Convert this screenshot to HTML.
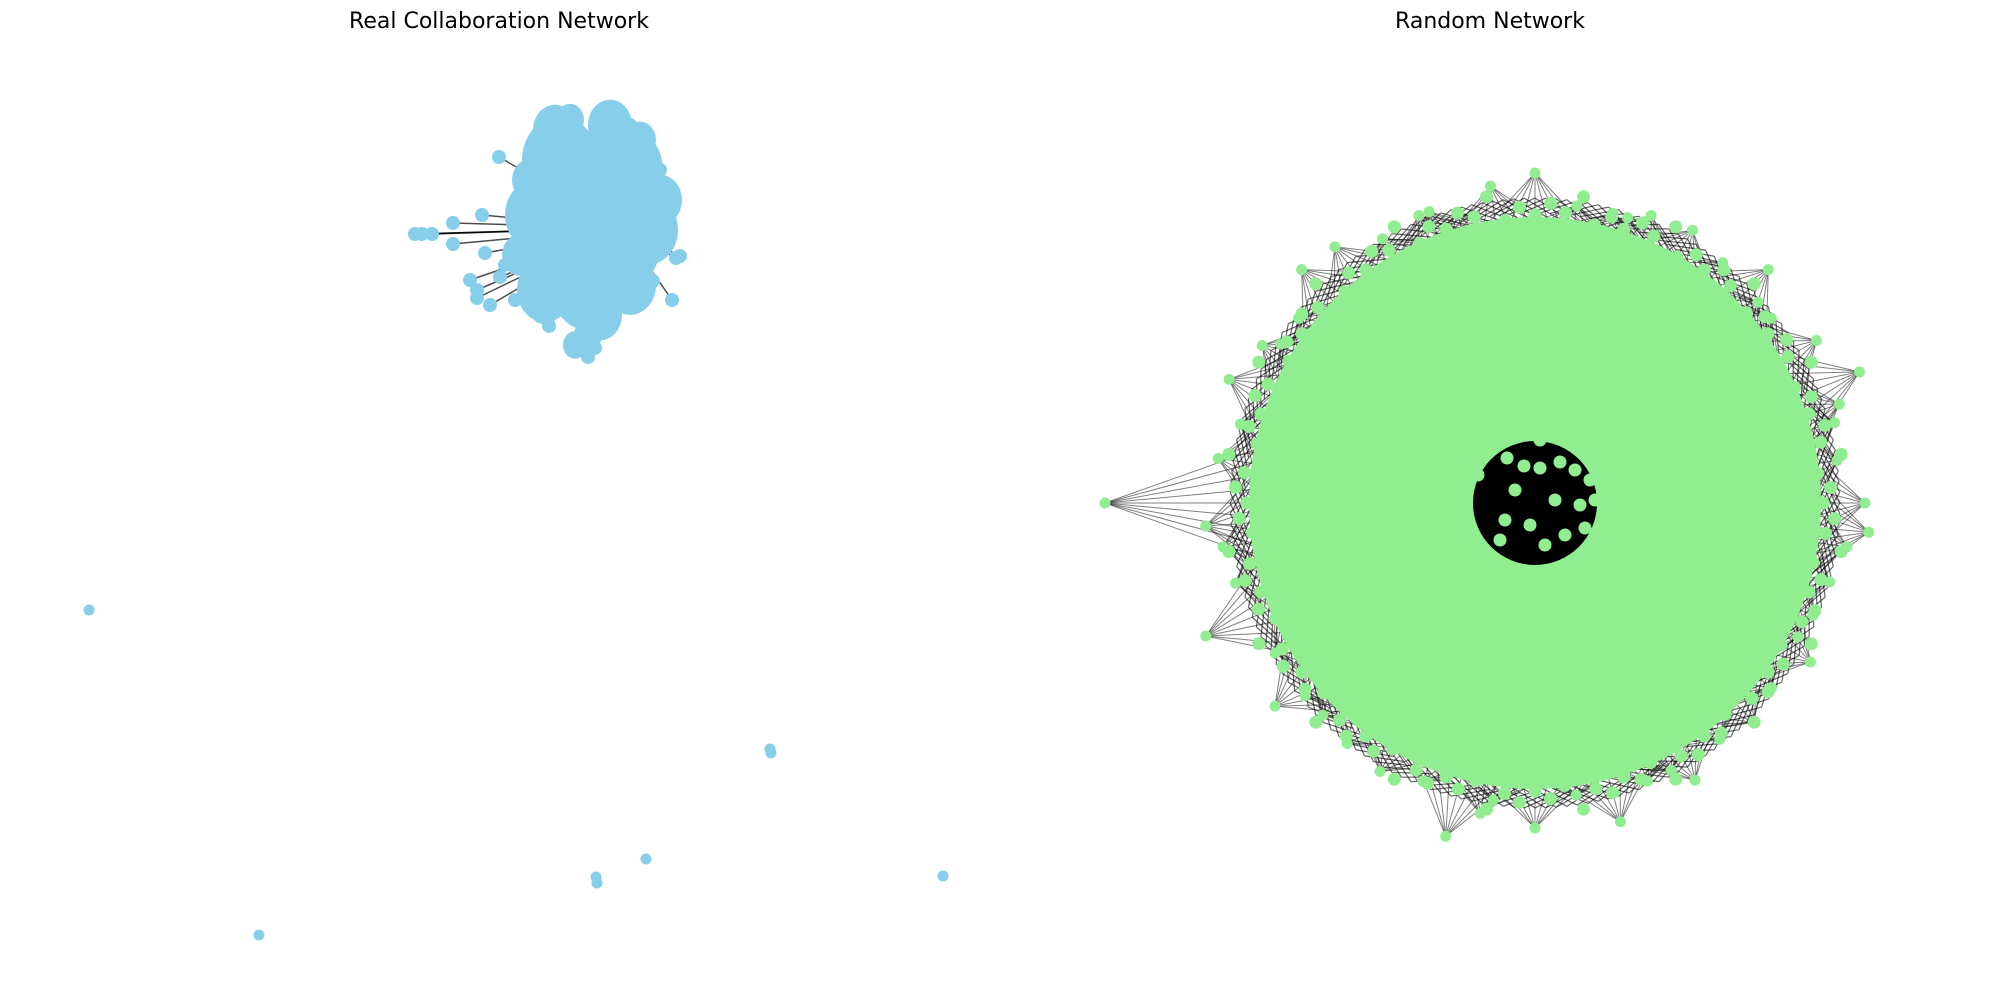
<!DOCTYPE html>
<html><head><meta charset="utf-8">
<style>
html,body{margin:0;padding:0;background:#fff;}
svg{display:block;}
text{font-family:"DejaVu Sans","Liberation Sans",sans-serif;font-size:22px;fill:#000;}
</style></head>
<body>
<svg id="fig" width="1990" height="989" viewBox="0 0 1990 989" xmlns="http://www.w3.org/2000/svg">
<rect width="1990" height="989" fill="#fff"/>
<text x="499" y="28" text-anchor="middle">Real Collaboration Network</text>
<text x="1490" y="28" text-anchor="middle">Random Network</text>
<g id="left"></g>
<g id="right"></g>
</svg>
<script>
// Real network: node positions
const realCoreX = [592, 560, 625, 535, 648, 590, 555, 610, 545, 630, 588, 600, 520, 660, 570, 640, 530, 575];
const realCoreY = [228, 160, 170, 215, 230, 285, 130, 125, 290, 285, 335, 315, 255, 200, 120, 140, 180, 345];
const realCoreR = [72, 38, 38, 30, 30, 40, 22, 22, 28, 26, 14, 22, 18, 22, 14, 16, 18, 12];
const realOuterX = [415, 422, 432, 453, 453, 482, 485, 499, 477, 477, 500, 540, 549, 646, 668, 676, 680, 653, 595, 588, 545, 538, 612, 630, 505, 515, 470, 490, 660, 672];
const realOuterY = [234, 234, 234, 223, 244, 215, 253, 157, 290, 298, 277, 316, 326, 147, 236, 258, 256, 281, 348, 357, 318, 134, 123, 125, 265, 300, 280, 305, 170, 300];
const realIsoX = [89, 259, 596, 597, 646, 770, 771, 943];
const realIsoY = [610, 935, 877, 883, 859, 749, 753, 876];

// Random network: outer node angles (deg, 0=east, clockwise) and radii
const randAngle = [0,8,15,22,30,38,45,52,60,68,75,82,90,98,105,112,120,128,135,142,150,158,165,172,180,188,195,202,210,218,225,232,240,248,255,262,270,278,285,292,300,308,315,322,330,338,345,352,5,27,63,100,140,176,212,250,288,318,342];
const randRadius = [330,315,305,300,318,300,310,300,320,300,330,295,325,300,345,300,310,305,300,330,300,355,310,315,430,320,305,330,315,300,330,325,305,310,300,320,330,300,300,310,315,305,330,300,325,350,310,305,335,295,300,315,300,330,300,310,300,300,320];
const randCX = 1535, randCY = 503;

const NS = "http://www.w3.org/2000/svg";
function mk(tag, attrs, parent){
  const e = document.createElementNS(NS, tag);
  for (const k in attrs) e.setAttribute(k, attrs[k]);
  parent.appendChild(e); return e;
}
const L = document.getElementById('left');
const R = document.getElementById('right');

for (let i = 0; i < realOuterX.length; i++) {
  const ln = mk('line', {x1: realOuterX[i], y1: realOuterY[i], x2: (realOuterX[i]+592)/2+15, y2: (realOuterY[i]+228)/2, stroke:'#000', 'stroke-width':1.5, 'stroke-opacity':0.7}, L);
  
  
}
for (let i = 0; i < realCoreX.length; i++) {
  const c = mk('ellipse', {cx: realCoreX[i], cy: realCoreY[i], rx: realCoreR[i], ry: realCoreR[i]*1.15, fill:'#87CEEB'}, L);
  
  
}
for (let i = 0; i < realOuterX.length; i++) {
  const c = mk('circle', {cx: realOuterX[i], cy: realOuterY[i], r: 7, fill:'#87CEEB'}, L);
  
  
}
for (let i = 0; i < realIsoX.length; i++) {
  const c = mk('circle', {cx: realIsoX[i], cy: realIsoY[i], r: 5.5, fill:'#87CEEB'}, L);
  
  
}

function pol(a, r){ const t = a*Math.PI/180; return [randCX + r*Math.cos(t), randCY + r*Math.sin(t)]; }
for (let i = 0; i < randAngle.length; i++) {
  const p = pol(randAngle[i], randRadius[i]);
  for (let k = -4; k <= 4; k++) {
    const q = pol(randAngle[i] + k*3, 275);
    const ln = mk('line', {x1:p[0], y1:p[1], x2:q[0], y2:q[1], stroke:'#000', 'stroke-width':1, 'stroke-opacity':0.5}, R);
    
    
  }
}
for (let a = 0; a < 360; a += 2) {
  const p = pol(a, 305), q = pol(a + 9, 280), s = pol(a - 7, 290);
  const ln = mk('path', {d:`M${p[0]},${p[1]}L${q[0]},${q[1]}M${p[0]},${p[1]}L${s[0]},${s[1]}`, stroke:'#000', 'stroke-width':1.2, 'stroke-opacity':0.6, fill:'none'}, R);
  
  
}
const disk = mk('circle', {cx: randCX, cy: randCY, r: 286, fill:'#90EE90'}, R);


const hole = mk('ellipse', {cx: randCX, cy: randCY, rx: 62, ry: 62, fill:'#000'}, R);


const holeNodesX = [1507,1524,1540,1560,1575,1590,1515,1555,1580,1505,1530,1565,1585,1545,1500,1595,1478,1592,1485,1540];
const holeNodesY = [458,466,468,462,470,480,490,500,505,520,525,535,528,545,540,500,475,548,555,440];
for (let i = 0; i < holeNodesX.length; i++) {
  const c = mk('circle', {cx: holeNodesX[i], cy: holeNodesY[i], r: 6.5, fill:'#90EE90'}, R);
  
  
}
for (let i = 0; i < randAngle.length; i++) {
  const p = pol(randAngle[i], randRadius[i]);
  const c = mk('circle', {cx:p[0], cy:p[1], r: 5.5, fill:'#90EE90'}, R);
  
  
}
const ringOffsets = [288, 300, 292, 310, 284, 296];
for (let a = 0, j = 0; a < 360; a += 3, j++) {
  const p = pol(a, ringOffsets[j % ringOffsets.length]);
  const c = mk('circle', {cx:p[0], cy:p[1], r: 6.5, fill:'#90EE90'}, R);
  
  
}
</script>
</body></html>
